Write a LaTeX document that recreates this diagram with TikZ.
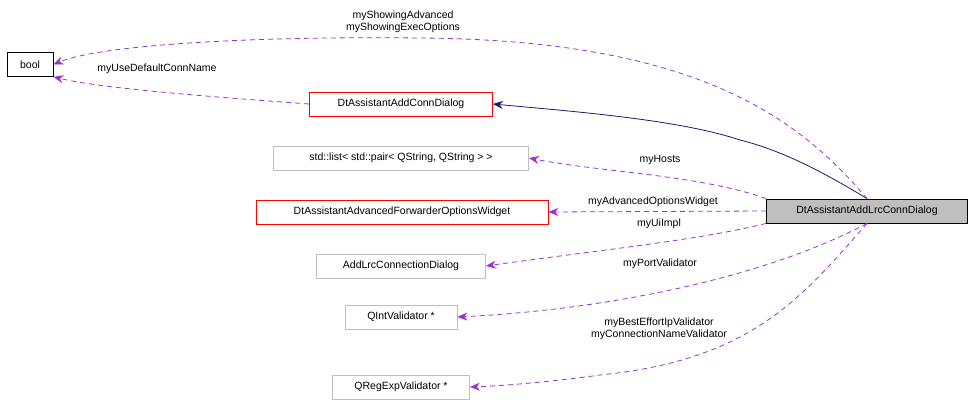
\documentclass[tikz,border=0pt]{standalone}
\usepackage{fontspec}
\setmainfont{Liberation Sans}
\usetikzlibrary{arrows.meta}
\definecolor{myviolet}{HTML}{9A32CD}
\definecolor{mynavy}{HTML}{191970}
\definecolor{mygray}{HTML}{BFBFBF}
\begin{document}
\begin{tikzpicture}[x=1pt,y=-1pt,font=\fontsize{10.5}{12}\selectfont,line width=0.8pt,
  box/.style={draw,minimum height=24pt,inner xsep=5pt,inner ysep=0pt},
  redbox/.style={box,draw=red},
  graybox/.style={box,draw=mygray},
  use/.style={draw=myviolet,dash pattern=on 5pt off 4pt,-{Stealth[length=10pt,width=8pt,fill=myviolet]}},
  inh/.style={draw=mynavy,-{Stealth[length=10pt,width=8pt,fill=mynavy]}},
  lbl/.style={align=center,inner sep=0pt}]
  \useasboundingbox (0,0) rectangle (973,401);

  \node[box,draw=black,minimum width=46pt] (bool) at (30,64.5) {bool};
  \node[redbox,minimum width=183pt] (conn) at (401,104) {DtAssistantAddConnDialog};
  \node[graybox,minimum width=255pt] (list) at (401,158) {std::list< std::pair< QString, QString > >};
  \node[redbox,minimum width=292pt] (adv) at (402,212) {DtAssistantAdvancedForwarderOptionsWidget};
  \node[graybox,minimum width=169pt] (ui) at (401,266) {AddLrcConnectionDialog};
  \node[graybox,minimum width=112pt] (intval) at (401,317) {QIntValidator *};
  \node[graybox,minimum width=137pt] (regval) at (401,387) {QRegExpValidator *};
  \node[box,fill=mygray,minimum width=201pt] (main) at (867,211) {DtAssistantAddLrcConnDialog};

  % inheritance
  \draw[inh] (main.north) .. controls (820,170) and (780,150) .. (740,140)
    .. controls (680,120) and (580,112) .. (conn.east);

  % members
  \draw[use] (main.north) .. controls (800,120) and (700,40) .. (420,38)
    .. controls (250,36) and (100,45) .. (bool.east);
  \draw[use] (conn.west) .. controls (200,96) and (100,88) .. (bool.south east);
  \draw[use] (main.north west) .. controls (700,175) and (600,172) .. (list.east);
  \draw[use] (main.west) -- (adv.east);
  \draw[use] (main.south west) .. controls (700,240) and (600,250) .. (ui.east);
  \draw[use] (main.south) .. controls (760,280) and (600,310) .. (intval.east);
  \draw[use] (main.south) .. controls (800,300) and (750,360) .. (600,375)
    .. controls (550,382) and (500,386) .. (regval.east);

  \node[lbl] (l1) at (403,22) {myShowingAdvanced\\myShowingExecOptions};
  \node[lbl] (l2) at (157,69) {myUseDefaultConnName};
  \node[lbl] (l3) at (660,160) {myHosts};
  \node[lbl] (l4) at (653,202) {myAdvancedOptionsWidget};
  \node[lbl] (l5) at (659,224) {myUiImpl};
  \node[lbl] (l6) at (660,264) {myPortValidator};
  \node[lbl] (l7) at (659,329) {myBestEffortIpValidator\\myConnectionNameValidator};
\end{tikzpicture}
\end{document}
